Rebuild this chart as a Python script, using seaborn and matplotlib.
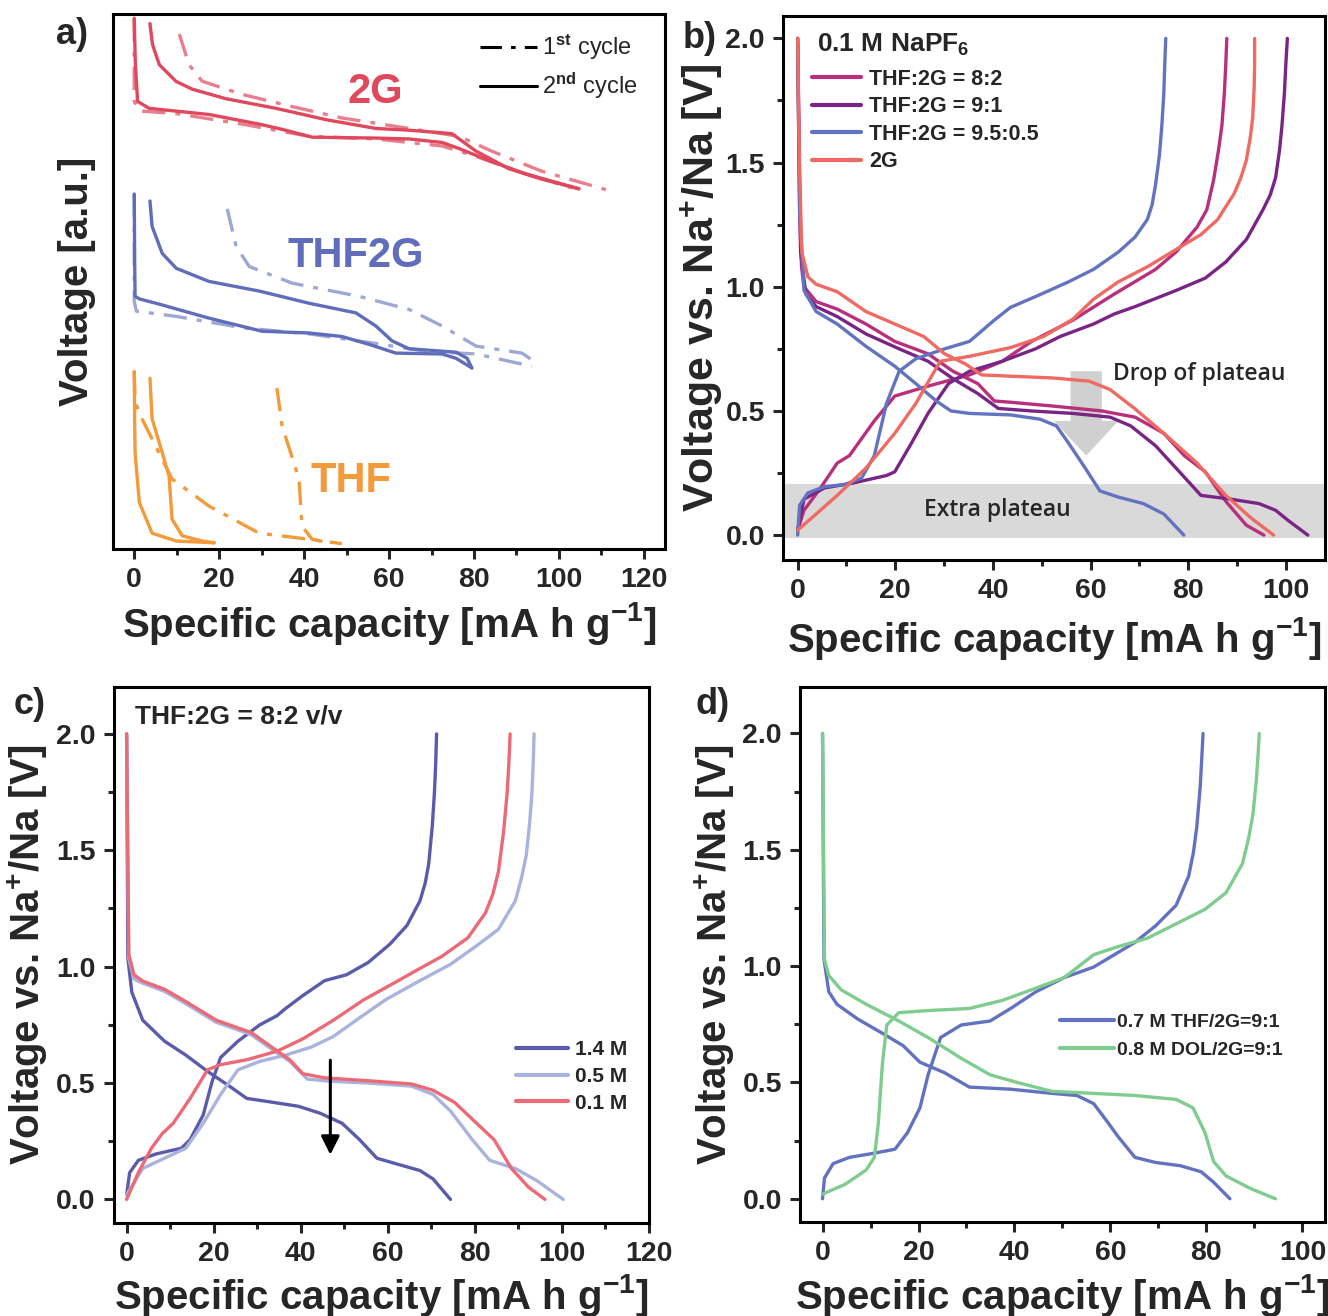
import numpy as np
import pandas as pd
import matplotlib
matplotlib.use("Agg")
import matplotlib.pyplot as plt
from matplotlib.lines import Line2D
from matplotlib.patches import FancyArrow
from matplotlib.ticker import MultipleLocator
import seaborn as sns

# ---------------- panel a: stacked voltage profiles (arbitrary offsets) ----------------
a_2g_c2_dis_x = [0, 0.24, 0.78, 3.5, 17.6, 29.4, 34.8, 41.9, 56.9, 64.7, 72.5, 76.5, 84.2, 92.2, 104.7]
a_2g_c2_dis_y = [6.07, 5.58, 5.12, 5.04, 4.97, 4.86, 4.80, 4.71, 4.70, 4.69, 4.65, 4.58, 4.43, 4.29, 4.12]
a_2g_c2_chg_x = [3.7, 4.3, 5.9, 9.8, 13.6, 21.6, 33.4, 45.2, 56.9, 64.7, 72.5, 74.8, 80.5, 88.2, 96.0, 104.7]
a_2g_c2_chg_y = [6.01, 5.77, 5.54, 5.35, 5.26, 5.15, 5.04, 4.91, 4.81, 4.79, 4.76, 4.75, 4.55, 4.35, 4.23, 4.12]
a_2g_c1_dis_x = [0, 0, 1.2, 9.9, 25.4, 41.2, 56.9, 72.5, 80.5, 92.2, 103.1]
a_2g_c1_dis_y = [6.07, 5.12, 5.01, 4.98, 4.86, 4.72, 4.69, 4.61, 4.49, 4.29, 4.13]
a_2g_c1_chg_x = [10.6, 12.9, 16.0, 25.4, 37.2, 48.9, 64.7, 76.5, 84.2, 96.0, 111.1]
a_2g_c1_chg_y = [5.89, 5.54, 5.35, 5.20, 5.06, 4.93, 4.81, 4.72, 4.55, 4.32, 4.11]

a_mix_c2_dis_x = [0, 0.1, 0.2, 1.2, 5.9, 17.6, 30.1, 41.2, 48.9, 55.3, 61.6, 72.5, 75.8, 79.5]
a_mix_c2_dis_y = [4.06, 3.29, 2.89, 2.86, 2.80, 2.64, 2.49, 2.47, 2.43, 2.34, 2.24, 2.23, 2.18, 2.07]
a_mix_c2_chg_x = [3.7, 4.2, 6.6, 9.9, 17.6, 29.4, 41.2, 52.2, 56.9, 60.7, 64.7, 75.8, 78.4, 79.5]
a_mix_c2_chg_y = [3.98, 3.69, 3.38, 3.21, 3.06, 2.95, 2.81, 2.70, 2.55, 2.38, 2.29, 2.25, 2.18, 2.07]
a_mix_c1_dis_x = [0, 0, 0.5, 9.9, 25.4, 41.2, 56.9, 68.7, 80.5, 93.6]
a_mix_c1_dis_y = [4.06, 2.83, 2.72, 2.66, 2.53, 2.46, 2.35, 2.26, 2.23, 2.09]
a_mix_c1_chg_x = [21.9, 24.0, 27.1, 37.2, 52.9, 64.7, 72.5, 80.5, 91.3, 94.6]
a_mix_c1_chg_y = [3.89, 3.46, 3.23, 3.04, 2.89, 2.74, 2.55, 2.32, 2.24, 2.13]

a_thf_c2_dis_x = [0, 0.1, 0.2, 1.2, 4.2, 9.9, 18.8]
a_thf_c2_dis_y = [2.03, 1.46, 1.10, 0.53, 0.18, 0.09, 0.07]
a_thf_c2_chg_x = [3.7, 4.2, 6.6, 8.2, 8.9, 11.3, 16.0, 18.8]
a_thf_c2_chg_y = [1.95, 1.49, 1.10, 0.83, 0.34, 0.15, 0.09, 0.07]
a_thf_c1_dis_x = [0, 0.2, 1.2, 8.9, 17.6, 29.4, 41.2, 48.9]
a_thf_c1_dis_y = [2.03, 1.69, 1.55, 0.80, 0.49, 0.18, 0.11, 0.06]
a_thf_c1_chg_x = [33.6, 34.8, 38.8, 39.5, 41.9, 45.9]
a_thf_c1_chg_y = [1.84, 1.41, 0.80, 0.26, 0.11, 0.07]

# ---------------- panel b: 0.1 M NaPF6, solvent ratio ----------------
b_82_dis_x = [0, 0.4, 0.8, 1.3, 3.8, 8.1, 14, 19.9, 26.7, 31.8, 36.9, 40.3, 43.6, 52.1, 62.3, 69.1, 75, 79.2, 83.5, 87.7, 91.9, 95.5]
b_82_dis_y = [2.0, 1.31, 1.08, 1.0, 0.94, 0.91, 0.85, 0.78, 0.73, 0.66, 0.61, 0.54, 0.535, 0.52, 0.50, 0.475, 0.41, 0.32, 0.255, 0.136, 0.04, 0.0]
b_82_chg_x = [0, 1.3, 4.7, 8.1, 10.6, 15.7, 19.9, 26.7, 35.2, 41.9, 47.9, 56.4, 64.8, 73.3, 77.5, 81.8, 83.8, 85.2, 86.2, 86.9, 87.4, 87.7, 87.9]
b_82_chg_y = [0.02, 0.10, 0.19, 0.29, 0.32, 0.46, 0.56, 0.60, 0.645, 0.70, 0.78, 0.866, 0.97, 1.07, 1.14, 1.24, 1.31, 1.43, 1.55, 1.65, 1.78, 1.90, 2.0]

b_91_dis_x = [0, 0.6, 1.7, 3.8, 8.1, 14, 20.8, 26.7, 31.8, 36.9, 41.1, 47.9, 56.4, 64, 68.2, 73.3, 77.5, 82.6, 88.6, 94.5, 97.9, 100.4, 104.5]
b_91_dis_y = [2.0, 1.14, 0.97, 0.92, 0.88, 0.81, 0.75, 0.70, 0.63, 0.57, 0.51, 0.50, 0.49, 0.475, 0.44, 0.36, 0.27, 0.16, 0.145, 0.127, 0.10, 0.06, 0.0]
b_91_chg_x = [0, 1.3, 5.5, 11.4, 18.2, 19.9, 23.3, 26.7, 30.9, 35.2, 41.9, 48.7, 53.8, 60.6, 64.8, 69.1, 77.5, 83.5, 87.7, 91.9, 95.3, 96.8, 97.9, 98.7, 99.2, 99.7, 100, 100.3]
b_91_chg_y = [0.02, 0.145, 0.19, 0.21, 0.24, 0.255, 0.37, 0.49, 0.61, 0.66, 0.70, 0.75, 0.80, 0.85, 0.89, 0.92, 0.985, 1.035, 1.10, 1.19, 1.31, 1.37, 1.44, 1.55, 1.65, 1.78, 1.90, 2.0]

b_955_dis_x = [0, 0.4, 1.3, 3.8, 8.1, 14, 19.9, 24.2, 28.4, 31.4, 35.2, 43.6, 49.6, 53, 55.5, 58.9, 61.9, 65.7, 70.8, 75, 79.1]
b_955_dis_y = [1.98, 1.31, 0.985, 0.90, 0.85, 0.76, 0.68, 0.61, 0.54, 0.50, 0.49, 0.484, 0.467, 0.44, 0.37, 0.27, 0.178, 0.153, 0.127, 0.085, 0.0]
b_955_chg_x = [0, 0.4, 2.1, 5.5, 9.7, 13.1, 15.7, 18.2, 20.8, 24.2, 30.1, 35.2, 40.3, 43.6, 49.6, 55.5, 60.6, 65.7, 69.1, 71.6, 72.6, 73.3, 74.1, 74.6, 75.0, 75.2, 75.4]
b_955_chg_y = [0.0, 0.12, 0.17, 0.195, 0.204, 0.23, 0.32, 0.53, 0.66, 0.71, 0.75, 0.78, 0.866, 0.917, 0.968, 1.02, 1.07, 1.14, 1.20, 1.27, 1.33, 1.41, 1.53, 1.65, 1.78, 1.90, 2.0]

b_2g_dis_x = [0, 0.4, 0.85, 2.1, 3.8, 8.1, 14, 19.9, 25.8, 30.1, 34.3, 37.7, 43.6, 52.1, 59.7, 64, 69, 75, 81.8, 87.7, 92.8, 97.5]
b_2g_dis_y = [2.0, 1.48, 1.14, 1.04, 1.01, 0.98, 0.90, 0.85, 0.80, 0.73, 0.69, 0.645, 0.64, 0.633, 0.62, 0.586, 0.51, 0.41, 0.29, 0.16, 0.07, 0.0]
b_2g_chg_x = [0, 3.8, 8.1, 14, 19.9, 24.2, 29.2, 35.2, 43.6, 50.4, 56.4, 60.6, 65.7, 71.6, 77.5, 82.6, 86, 89.4, 90.8, 91.9, 92.7, 93.2, 93.5, 93.6, 93.6]
b_2g_chg_y = [0.02, 0.085, 0.16, 0.27, 0.41, 0.53, 0.70, 0.72, 0.755, 0.80, 0.87, 0.95, 1.02, 1.08, 1.15, 1.21, 1.27, 1.375, 1.44, 1.51, 1.60, 1.68, 1.80, 1.90, 2.0]

b_labels = ["THF:2G = 8:2", "THF:2G = 9:1", "THF:2G = 9.5:0.5", "2G"]

# ---------------- panel c: THF:2G = 8:2, salt concentration ----------------
c_14_dis_x = [0, 0.3, 1.2, 3.7, 8.7, 13.6, 18.6, 23.6, 27.6, 32.6, 39.5, 44.5, 49.5, 53.5, 57.5, 62.5, 67.4, 70.4, 74.4]
c_14_dis_y = [2.0, 1.035, 0.89, 0.77, 0.68, 0.62, 0.55, 0.487, 0.434, 0.42, 0.40, 0.37, 0.327, 0.257, 0.177, 0.15, 0.124, 0.088, 0.0]
c_14_chg_x = [0, 0.7, 2.7, 6.7, 12.6, 14.6, 17.6, 19.6, 21.6, 25.6, 30.6, 34.6, 36.5, 40.5, 45.5, 50.5, 55.5, 60.5, 64.4, 67.4, 68.6, 69.4, 70.2, 70.7, 71.0, 71.2]
c_14_chg_y = [0.02, 0.115, 0.168, 0.195, 0.22, 0.257, 0.363, 0.504, 0.61, 0.68, 0.75, 0.79, 0.82, 0.876, 0.94, 0.965, 1.018, 1.097, 1.177, 1.283, 1.36, 1.442, 1.60, 1.743, 1.87, 2.0]

c_05_dis_x = [0, 0.5, 1.7, 3.7, 8.7, 13.6, 20.6, 28.6, 32.6, 37.5, 41.5, 46.5, 55.5, 65.4, 70.4, 74.4, 79.4, 83.4, 89.3, 94.3, 100.3]
c_05_dis_y = [2.0, 1.035, 0.947, 0.929, 0.894, 0.841, 0.761, 0.708, 0.655, 0.593, 0.517, 0.508, 0.50, 0.487, 0.451, 0.38, 0.257, 0.168, 0.133, 0.08, 0.0]
c_05_chg_x = [0, 3.7, 8.7, 13.6, 17.6, 21.6, 25.6, 30.6, 36.5, 42.5, 47.5, 53.5, 59.5, 66.4, 74.4, 80.4, 85.4, 89.3, 90.7, 91.8, 92.6, 93.1, 93.4, 93.6]
c_05_chg_y = [0.02, 0.133, 0.177, 0.22, 0.327, 0.451, 0.557, 0.593, 0.62, 0.655, 0.70, 0.78, 0.858, 0.93, 1.01, 1.09, 1.16, 1.283, 1.38, 1.478, 1.62, 1.743, 1.87, 2.0]

c_01_dis_x = [0, 0.5, 1.7, 3.7, 8.7, 13.6, 20.6, 28.6, 32.6, 37.5, 40.5, 45.5, 55.5, 65.4, 70.4, 75.4, 80.4, 84.4, 88.4, 92.3, 96.1]
c_01_dis_y = [2.0, 1.053, 0.965, 0.938, 0.903, 0.85, 0.77, 0.717, 0.664, 0.60, 0.54, 0.522, 0.51, 0.496, 0.469, 0.416, 0.327, 0.257, 0.133, 0.053, 0.0]
c_01_chg_x = [0, 2.7, 5.7, 8.2, 10.7, 14.6, 18.6, 21.6, 27.6, 34.6, 40.5, 47.5, 54.5, 60.5, 66.4, 72.4, 78.4, 82.4, 84.1, 85.4, 86.6, 87.4, 87.8, 88.1]
c_01_chg_y = [0.0, 0.115, 0.22, 0.283, 0.327, 0.434, 0.557, 0.579, 0.60, 0.637, 0.69, 0.77, 0.858, 0.92, 0.982, 1.044, 1.124, 1.23, 1.31, 1.407, 1.58, 1.743, 1.87, 2.0]

c_labels = ["1.4 M", "0.5 M", "0.1 M"]

# ---------------- panel d: THF vs DOL co-solvent ----------------
d_thf_dis_x = [0, 0.3, 1.3, 3, 7.3, 12.5, 16.8, 20.3, 25.4, 30.6, 39.2, 47.8, 53, 56.5, 59.1, 61.6, 65.1, 69.4, 74.6, 78.9, 81.5, 84.9]
d_thf_dis_y = [2.0, 1.03, 0.89, 0.836, 0.773, 0.711, 0.658, 0.587, 0.542, 0.48, 0.471, 0.453, 0.444, 0.409, 0.338, 0.267, 0.178, 0.156, 0.142, 0.116, 0.071, 0.0]
d_thf_chg_x = [0, 0.4, 2.2, 5.6, 10.8, 15.1, 17.7, 20.3, 22, 24.6, 28.9, 34.9, 39.2, 44.4, 50.4, 56.5, 60.8, 65.1, 69.4, 73.7, 76.3, 77.3, 78.0, 78.7, 79.1, 79.3]
d_thf_chg_y = [0.0, 0.089, 0.151, 0.178, 0.196, 0.213, 0.284, 0.391, 0.533, 0.693, 0.747, 0.764, 0.818, 0.889, 0.951, 0.996, 1.049, 1.102, 1.173, 1.262, 1.387, 1.49, 1.60, 1.77, 1.92, 2.0]

d_dol_dis_x = [0, 0.4, 1.3, 3.9, 9.1, 15.9, 22, 28.9, 34.9, 40.9, 47.8, 56.5, 65.1, 73.7, 77.2, 79.7, 81.5, 84.1, 89.2, 94.4]
d_dol_dis_y = [2.0, 1.03, 0.96, 0.898, 0.836, 0.764, 0.693, 0.604, 0.533, 0.498, 0.462, 0.453, 0.444, 0.427, 0.391, 0.284, 0.16, 0.098, 0.044, 0.0]
d_dol_chg_x = [0, 4.7, 9.1, 10.8, 11.6, 12.5, 13.4, 15.9, 22, 30.6, 37.5, 43.5, 50.4, 56.5, 61.6, 67.7, 73.7, 79.7, 84.1, 87.5, 88.8, 89.7, 90.4, 90.8, 91]
d_dol_chg_y = [0.02, 0.062, 0.124, 0.178, 0.32, 0.587, 0.747, 0.80, 0.809, 0.818, 0.853, 0.898, 0.951, 1.049, 1.084, 1.12, 1.182, 1.244, 1.316, 1.44, 1.55, 1.653, 1.80, 1.92, 2.0]

d_labels = ["0.7 M THF/2G=9:1", "0.8 M DOL/2G=9:1"]

# ---------------- styling ----------------
sns.set_style("ticks")
plt.rcParams["font.family"] = ["Liberation Sans", "DejaVu Sans"]
plt.rcParams["font.weight"] = "bold"
plt.rcParams["mathtext.fontset"] = "custom"
plt.rcParams["mathtext.rm"] = "Liberation Sans"
plt.rcParams["mathtext.bf"] = "Liberation Sans:bold"
plt.rcParams["mathtext.it"] = "Liberation Sans:italic"
plt.rcParams["axes.linewidth"] = 2.2
plt.rcParams["axes.edgecolor"] = "black"

RED = "#e0485e"
BLUE_A = "#5f6dba"
ORANGE = "#f39a3a"
C82 = "#b8307c"
C91 = "#7a2585"
C955 = "#6273c0"
C2G = "#ef6a62"
C14 = "#5b5bab"
C05 = "#aab2de"
C01 = "#ec6a76"
CTHF = "#6272c0"
CDOL = "#7fcc8e"
LW = 2.4
DASH = (0, (7, 3, 1.5, 3))

TICK_FS = 20.5
LABEL_FS = 29
XLABEL = r"Specific capacity [mA h g$^{\mathbf{-1}}$]"
YLABEL = r"Voltage vs. Na$^{\mathbf{+}}$/Na [V]"

fig = plt.figure(figsize=(13.28, 13.16), dpi=100)
ax_a = fig.add_axes([0.0851, 0.5829, 0.4157, 0.4065])
ax_b = fig.add_axes([0.5896, 0.5745, 0.4081, 0.4133])
ax_c = fig.add_axes([0.0855, 0.0709, 0.4032, 0.4068])
ax_d = fig.add_axes([0.6024, 0.0714, 0.3953, 0.4066])


def curve(ax, x, y, color, ls="-", alpha=1.0):
    df = pd.DataFrame({"x": x, "y": y})
    sns.lineplot(data=df, x="x", y="y", sort=False, estimator=None, color=color,
                 linewidth=LW, linestyle=ls, alpha=alpha, ax=ax)


def style_ticks(ax):
    ax.tick_params(which="major", direction="out", length=7, width=2.2,
                   labelsize=TICK_FS, pad=6)
    ax.tick_params(which="minor", direction="out", length=4, width=2.2)


# ---- a ----
for xs, ys, col, ls, al in [
    (a_2g_c1_dis_x, a_2g_c1_dis_y, RED, DASH, 0.7),
    (a_2g_c1_chg_x, a_2g_c1_chg_y, RED, DASH, 0.7),
    (a_2g_c2_dis_x, a_2g_c2_dis_y, RED, "-", 1.0),
    (a_2g_c2_chg_x, a_2g_c2_chg_y, RED, "-", 1.0),
    (a_mix_c1_dis_x, a_mix_c1_dis_y, BLUE_A, DASH, 0.6),
    (a_mix_c1_chg_x, a_mix_c1_chg_y, BLUE_A, DASH, 0.6),
    (a_mix_c2_dis_x, a_mix_c2_dis_y, BLUE_A, "-", 1.0),
    (a_mix_c2_chg_x, a_mix_c2_chg_y, BLUE_A, "-", 1.0),
    (a_thf_c1_dis_x, a_thf_c1_dis_y, ORANGE, DASH, 1.0),
    (a_thf_c1_chg_x, a_thf_c1_chg_y, ORANGE, DASH, 1.0),
    (a_thf_c2_dis_x, a_thf_c2_dis_y, ORANGE, "-", 1.0),
    (a_thf_c2_chg_x, a_thf_c2_chg_y, ORANGE, "-", 1.0),
]:
    curve(ax_a, xs, ys, col, ls, al)
ax_a.set_xlim(-5, 125)
ax_a.set_ylim(0, 6.12)
ax_a.set_yticks([])
ax_a.xaxis.set_major_locator(MultipleLocator(20))
ax_a.xaxis.set_minor_locator(MultipleLocator(10))
style_ticks(ax_a)
ax_a.set_xlabel(XLABEL, fontsize=LABEL_FS, fontweight="bold", labelpad=5)
ax_a.set_ylabel("Voltage [a.u.]", fontsize=LABEL_FS, fontweight="bold", labelpad=12)
ax_a.text(56.7, 5.23, "2G", color=RED, fontsize=30, fontweight="bold", ha="center", va="center")
ax_a.text(52.2, 3.35, "THF2G", color=BLUE_A, fontsize=30, fontweight="bold", ha="center", va="center")
ax_a.text(51.1, 0.78, "THF", color=ORANGE, fontsize=30, fontweight="bold", ha="center", va="center")
cyc_handles = [Line2D([], [], color="black", lw=2.2, linestyle=DASH),
               Line2D([], [], color="black", lw=2.2, linestyle="-")]
ax_a.legend(cyc_handles, [r"1$^{\mathrm{st}}$ cycle", r"2$^{\mathrm{nd}}$ cycle"],
            loc="upper left", bbox_to_anchor=(0.665, 0.965), frameon=False,
            prop={"size": 17, "weight": "normal"}, handlelength=2.4,
            handletextpad=0.2, labelspacing=0.35, borderpad=0, borderaxespad=0)

# ---- b ----
ax_b.axhspan(-0.01, 0.207, color="#d9d9d9", lw=0, zorder=0)
b_series = [(b_82_dis_x, b_82_dis_y, b_82_chg_x, b_82_chg_y, C82),
            (b_91_dis_x, b_91_dis_y, b_91_chg_x, b_91_chg_y, C91),
            (b_955_dis_x, b_955_dis_y, b_955_chg_x, b_955_chg_y, C955),
            (b_2g_dis_x, b_2g_dis_y, b_2g_chg_x, b_2g_chg_y, C2G)]
for dx, dy, cx, cy, col in b_series:
    curve(ax_b, dx, dy, col)
    curve(ax_b, cx, cy, col)
ax_b.add_patch(FancyArrow(59.1, 0.66, 0, -0.34, width=6.4, head_width=13.2,
                          head_length=0.14, length_includes_head=True,
                          color="#d0d0d0", lw=0, zorder=1))
ax_b.text(64.5, 0.65, "Drop of plateau", fontsize=16.5, fontweight="semibold",
          family=["Open Sans", "DejaVu Sans"], va="center", ha="left")
ax_b.text(41, 0.10, "Extra plateau", fontsize=16.5, fontweight="semibold",
          family=["Open Sans", "DejaVu Sans"], va="center", ha="center")
ax_b.set_xlim(-3, 108)
ax_b.set_ylim(-0.1, 2.09)
ax_b.xaxis.set_major_locator(MultipleLocator(20))
ax_b.xaxis.set_minor_locator(MultipleLocator(10))
ax_b.yaxis.set_major_locator(MultipleLocator(0.5))
ax_b.yaxis.set_minor_locator(MultipleLocator(0.25))
style_ticks(ax_b)
ax_b.set_xlabel(XLABEL, fontsize=LABEL_FS, fontweight="bold", labelpad=8)
ax_b.set_ylabel(YLABEL, fontsize=31, fontweight="bold", labelpad=0)
ax_b.text(0.063, 0.947, r"0.1 M NaPF$_{\mathbf{6}}$", transform=ax_b.transAxes,
          fontsize=19, fontweight="bold", va="center", ha="left")
b_handles = [Line2D([], [], color=s[4], lw=3) for s in b_series]
ax_b.legend(b_handles, b_labels, loc="upper left", bbox_to_anchor=(0.0535, 0.903),
            frameon=False, prop={"size": 15.5, "weight": "bold"}, handlelength=2.3,
            handletextpad=0.35, labelspacing=0.3, borderpad=0, borderaxespad=0)

# ---- c ----
c_series = [(c_14_dis_x, c_14_dis_y, c_14_chg_x, c_14_chg_y, C14),
            (c_05_dis_x, c_05_dis_y, c_05_chg_x, c_05_chg_y, C05),
            (c_01_dis_x, c_01_dis_y, c_01_chg_x, c_01_chg_y, C01)]
for dx, dy, cx, cy, col in c_series:
    curve(ax_c, dx, dy, col)
    curve(ax_c, cx, cy, col)
ax_c.annotate("", xy=(46.8, 0.18), xytext=(46.8, 0.61),
              arrowprops=dict(arrowstyle="-|>", color="black", lw=2.2, mutation_scale=28))
ax_c.set_xlim(-3, 120)
ax_c.set_ylim(-0.1, 2.2)
ax_c.xaxis.set_major_locator(MultipleLocator(20))
ax_c.xaxis.set_minor_locator(MultipleLocator(10))
ax_c.yaxis.set_major_locator(MultipleLocator(0.5))
ax_c.yaxis.set_minor_locator(MultipleLocator(0.25))
style_ticks(ax_c)
ax_c.set_xlabel(XLABEL, fontsize=LABEL_FS, fontweight="bold", labelpad=4)
ax_c.set_ylabel(YLABEL, fontsize=LABEL_FS, fontweight="bold", labelpad=4)
ax_c.text(0.04, 0.946, "THF:2G = 8:2 v/v", transform=ax_c.transAxes,
          fontsize=19, fontweight="bold", va="center", ha="left")
c_handles = [Line2D([], [], color=s[4], lw=3) for s in c_series]
ax_c.legend(c_handles, c_labels, loc="upper left", bbox_to_anchor=(0.752, 0.341),
            frameon=False, prop={"size": 15, "weight": "bold"}, handlelength=2.5,
            handletextpad=0.3, labelspacing=0.37, borderpad=0, borderaxespad=0)

# ---- d ----
d_series = [(d_thf_dis_x, d_thf_dis_y, d_thf_chg_x, d_thf_chg_y, CTHF),
            (d_dol_dis_x, d_dol_dis_y, d_dol_chg_x, d_dol_chg_y, CDOL)]
for dx, dy, cx, cy, col in d_series:
    curve(ax_d, dx, dy, col)
    curve(ax_d, cx, cy, col)
ax_d.set_xlim(-4.7, 104.7)
ax_d.set_ylim(-0.1, 2.2)
ax_d.xaxis.set_major_locator(MultipleLocator(20))
ax_d.xaxis.set_minor_locator(MultipleLocator(10))
ax_d.yaxis.set_major_locator(MultipleLocator(0.5))
ax_d.yaxis.set_minor_locator(MultipleLocator(0.25))
style_ticks(ax_d)
ax_d.set_xlabel(XLABEL, fontsize=LABEL_FS, fontweight="bold", labelpad=4)
ax_d.set_ylabel(YLABEL, fontsize=LABEL_FS, fontweight="bold", labelpad=4)
d_handles = [Line2D([], [], color=s[4], lw=3) for s in d_series]
ax_d.legend(d_handles, d_labels, loc="upper left", bbox_to_anchor=(0.495, 0.39),
            frameon=False, prop={"size": 14, "weight": "bold"}, handlelength=2.8,
            handletextpad=0.15, labelspacing=0.55, borderpad=0, borderaxespad=0)

for ax in (ax_a, ax_b, ax_c, ax_d):
    for sp in ax.spines.values():
        sp.set_visible(True)
        sp.set_linewidth(2.2)

# panel letters
fig.text(72 / 1328, 1 - 35 / 1316, "a)", fontsize=26, fontweight="bold", ha="center", va="center")
fig.text(700 / 1328, 1 - 38 / 1316, "b)", fontsize=26, fontweight="bold", ha="center", va="center")
fig.text(30 / 1328, 1 - 705 / 1316, "c)", fontsize=26, fontweight="bold", ha="center", va="center")
fig.text(713 / 1328, 1 - 705 / 1316, "d)", fontsize=26, fontweight="bold", ha="center", va="center")

fig.savefig("out.png", dpi=100, facecolor="white")
